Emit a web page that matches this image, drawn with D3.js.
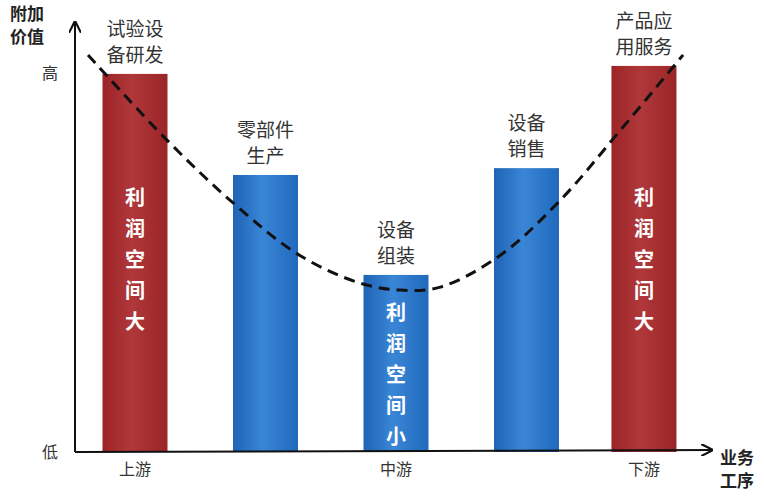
<!DOCTYPE html>
<html><head><meta charset="utf-8">
<script src="https://cdn.jsdelivr.net/npm/d3@7"></script>
<style>body{margin:0;background:#fff}text{font-family:"Noto Sans CJK SC",sans-serif}</style>
</head><body><svg id="chart" width="764" height="496"></svg>
<script>
// stages along the value chain
var stageNames = ["试验设\n备研发", "零部件\n生产", "设备\n组装", "设备\n销售", "产品应\n用服务"];
var stagePos = [1, 2, 3, 4, 4.9];
var stageValue = [99.5, 72.9, 46.6, 74.7, 101.6];
var stageColor = ["red", "blue", "blue", "blue", "red"];
var barText = ["利润空间大", "", "利润空间小", "", "利润空间大"];
var curvePos = [0.64, 1.23, 1.77, 2.26, 2.72, 3.03, 3.34, 3.8, 4.26, 4.72, 5.2];
var curveValue = [104.5, 82.6, 65, 51.8, 44.5, 42.6, 43.4, 51.8, 66.3, 84.7, 104.5];
var xTickLabels = [{p: 1, t: "上游"}, {p: 3, t: "中游"}, {p: 4.9, t: "下游"}];

var svg = d3.select("#chart");
var x = d3.scaleLinear().domain([0, 5.5]).range([4.5, 722.25]);
var y = d3.scaleLinear().domain([0, 100]).range([452, 72]);
var barW = 65;

var defs = svg.append("defs");
function grad(id, c1, c2, c3) {
  var g = defs.append("linearGradient").attr("id", id);
  g.append("stop").attr("offset", "0%").attr("stop-color", c1);
  g.append("stop").attr("offset", "45%").attr("stop-color", c2);
  g.append("stop").attr("offset", "100%").attr("stop-color", c3);
}
grad("red", "#9c2326", "#b0383a", "#9a2427");
grad("blue", "#1f63b5", "#3a86d6", "#2069bd");

svg.selectAll("rect.bar").data(stageValue).enter().append("rect")
  .attr("x", function(d, i) { return x(stagePos[i]) - barW / 2; })
  .attr("y", function(d) { return y(d); })
  .attr("width", barW)
  .attr("height", function(d) { return y(0) - y(d); })
  .attr("fill", function(d, i) { return "url(#" + stageColor[i] + ")"; });

// stage names above bars
stageNames.forEach(function(n, i) {
  var lines = n.split("\n");
  lines.forEach(function(l, j) {
    svg.append("text").attr("x", x(stagePos[i])).attr("y", y(stageValue[i]) - 12 - (lines.length - 1 - j) * 26)
      .attr("text-anchor", "middle").attr("font-size", 19).attr("fill", "#333").text(l);
  });
});

// text inside bars
barText.forEach(function(t, i) {
  if (!t) return;
  var top = stageColor[i] == "red" ? 205 : y(stageValue[i]) + 45;
  t.split("").forEach(function(ch, j) {
    svg.append("text").attr("x", x(stagePos[i])).attr("y", top + j * 31)
      .attr("text-anchor", "middle").attr("font-size", 20).attr("font-weight", "bold")
      .attr("fill", "#fff").text(ch);
  });
});

// dashed value curve
svg.append("path").datum(curveValue)
  .attr("d", d3.line().curve(d3.curveCatmullRom)
    .x(function(d, i) { return x(curvePos[i]); }).y(function(d) { return y(d); }))
  .attr("fill", "none").attr("stroke", "#111").attr("stroke-width", 3).attr("stroke-dasharray", "11,7");

// axes
defs.append("marker").attr("id", "arr").attr("viewBox", "0 0 10 10").attr("refX", 9).attr("refY", 5)
  .attr("markerWidth", 12).attr("markerHeight", 12).attr("markerUnits", "userSpaceOnUse").attr("orient", "auto")
  .append("path").attr("d", "M0,0L10,5L0,10").attr("fill", "none").attr("stroke", "#111").attr("stroke-width", 1.8);
svg.append("line").attr("x1", 75).attr("y1", y(0)).attr("x2", 75).attr("y2", 22)
  .attr("stroke", "#111").attr("stroke-width", 2).attr("marker-end", "url(#arr)");
svg.append("line").attr("x1", 75).attr("y1", y(0)).attr("x2", 712).attr("y2", y(0) - 2)
  .attr("stroke", "#111").attr("stroke-width", 2).attr("marker-end", "url(#arr)");

svg.append("text").attr("x", 50).attr("y", y(100) + 7).attr("text-anchor", "middle").attr("font-size", 16).attr("fill", "#333").text("高");
svg.append("text").attr("x", 50).attr("y", y(0) + 6).attr("text-anchor", "middle").attr("font-size", 16).attr("fill", "#333").text("低");
xTickLabels.forEach(function(t) {
  svg.append("text").attr("x", x(t.p)).attr("y", 475).attr("text-anchor", "middle").attr("font-size", 16).attr("fill", "#333").text(t.t);
});
[["附加", 20], ["价值", 43]].forEach(function(d) {
  svg.append("text").attr("x", 10).attr("y", d[1]).attr("font-size", 17).attr("font-weight", "bold").attr("fill", "#222").text(d[0]);
});
[["业务", 464], ["工序", 487]].forEach(function(d) {
  svg.append("text").attr("x", 720).attr("y", d[1]).attr("font-size", 17).attr("font-weight", "bold").attr("fill", "#222").text(d[0]);
});
</script></body></html>
